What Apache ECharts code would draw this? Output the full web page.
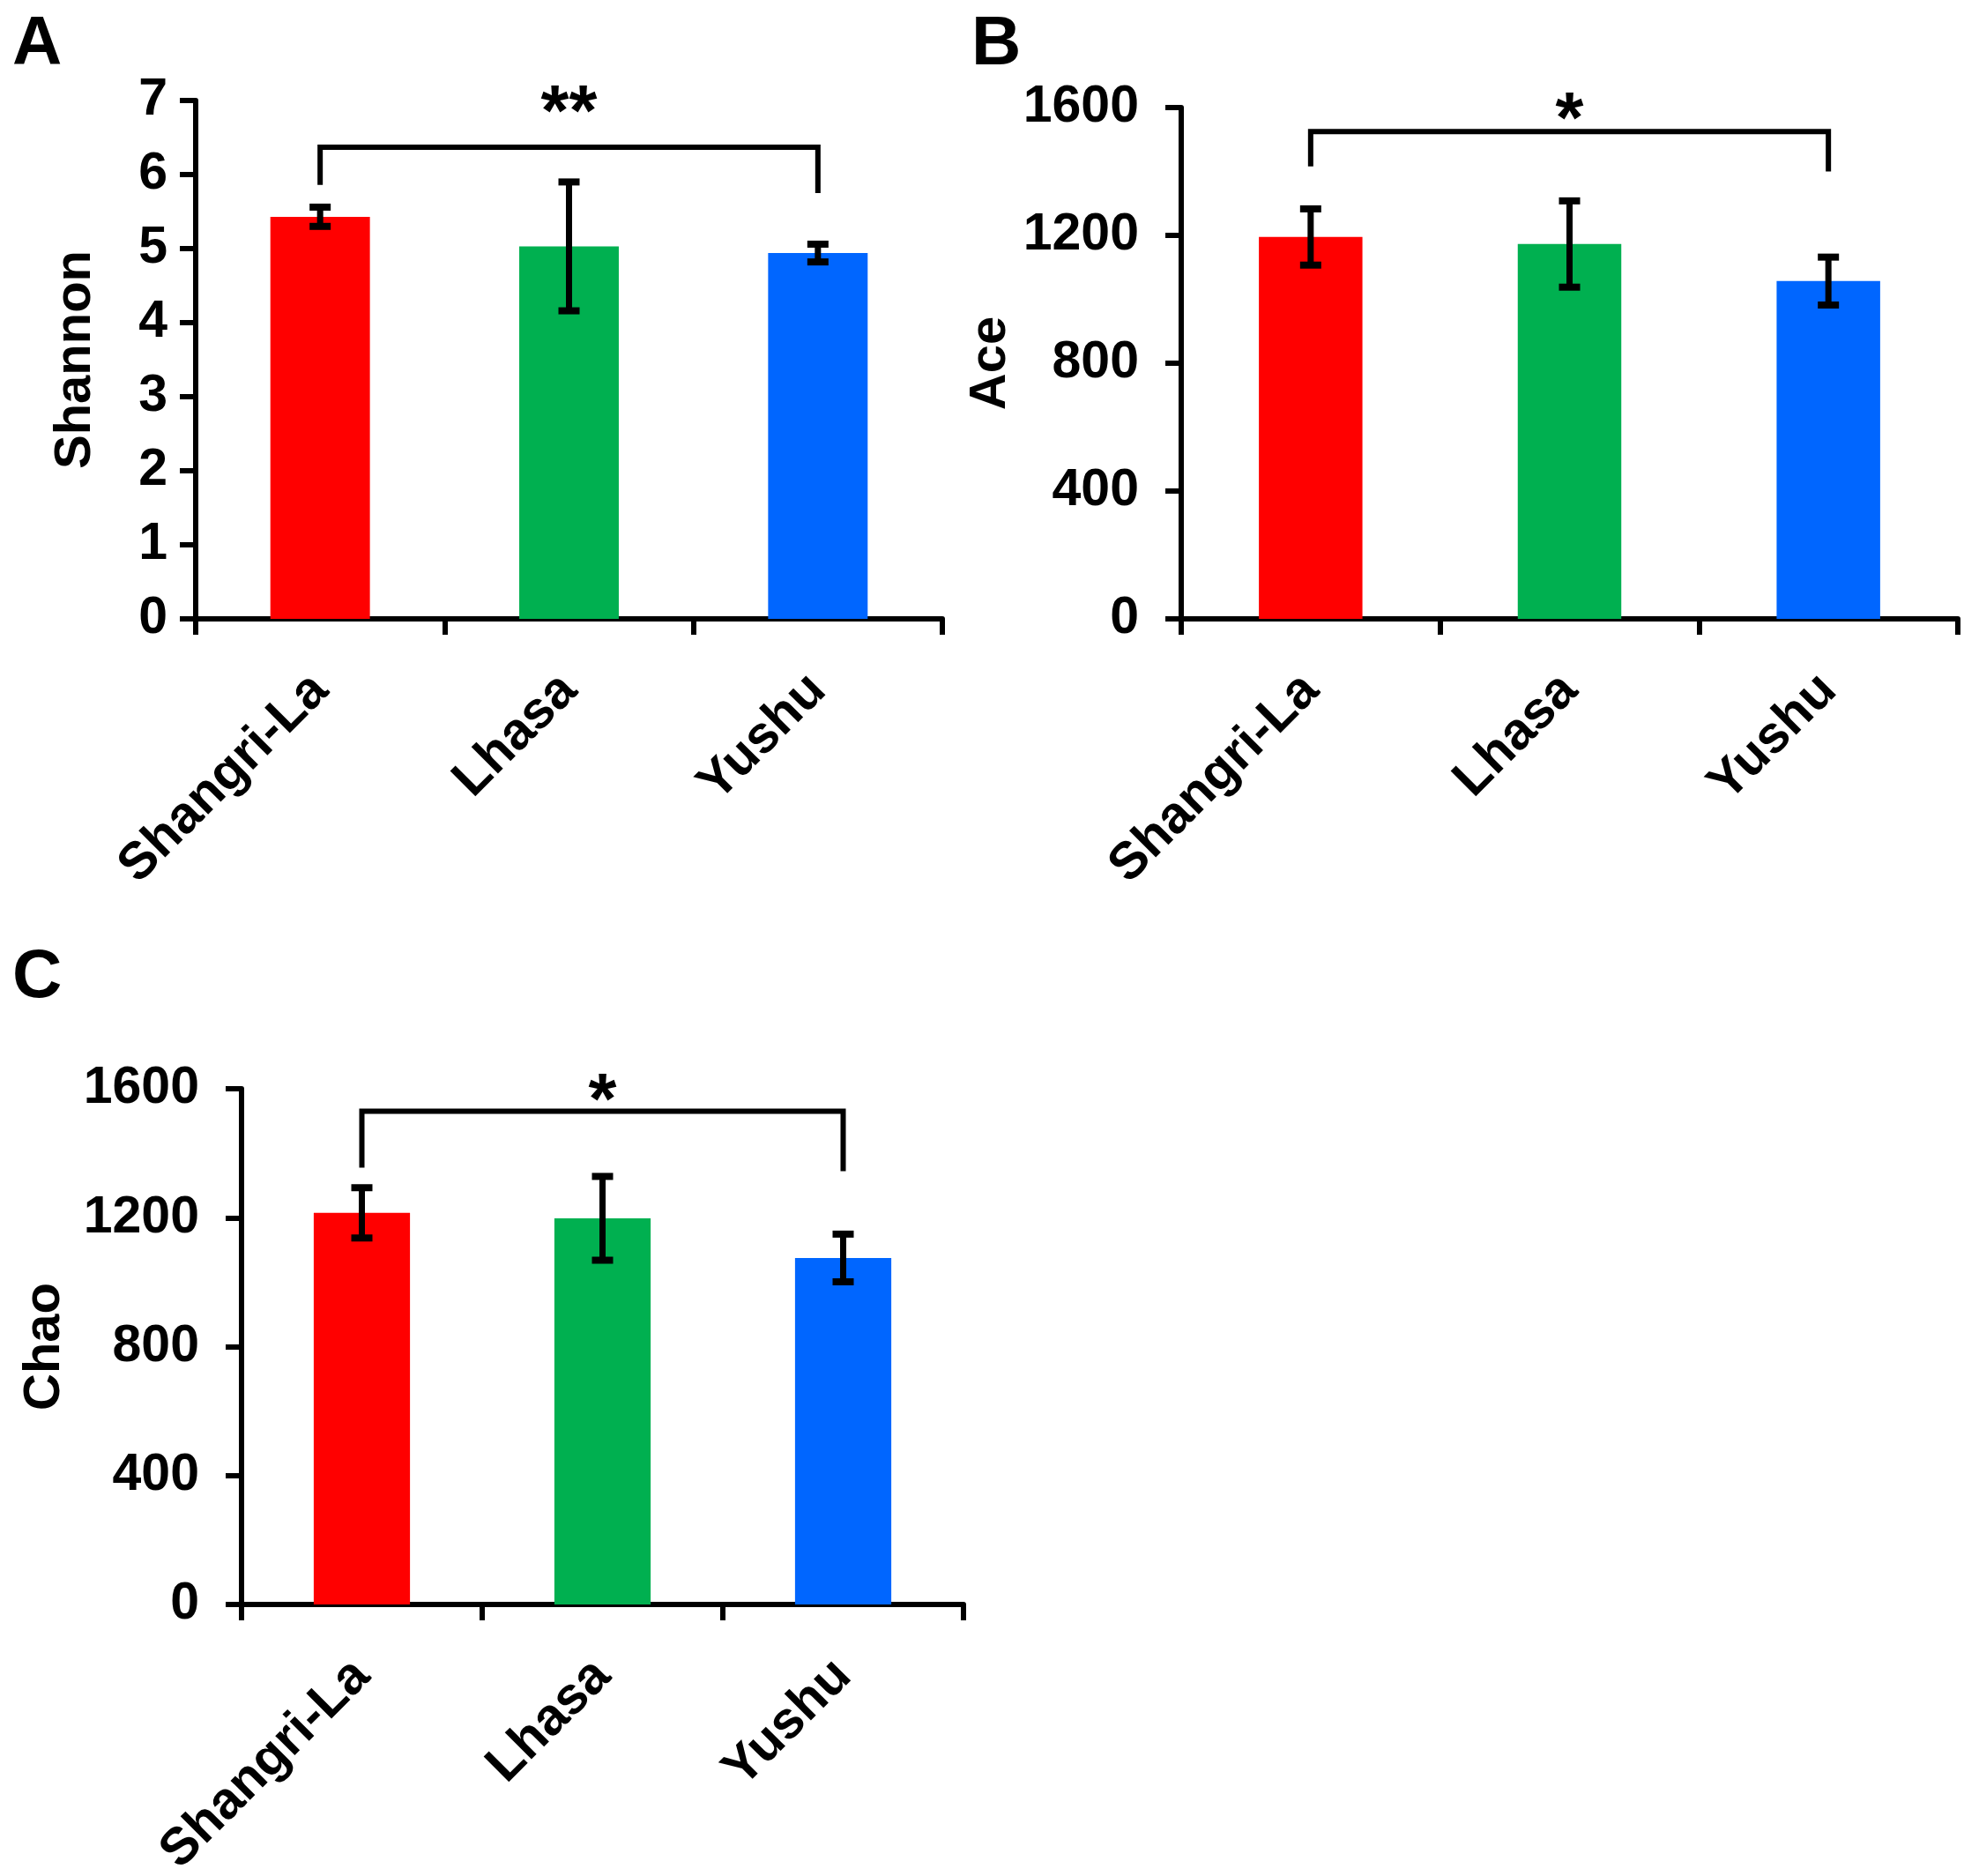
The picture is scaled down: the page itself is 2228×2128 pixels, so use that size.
<!DOCTYPE html>
<html>
<head>
<meta charset="utf-8">
<title>Alpha diversity</title>
<script src="https://cdn.jsdelivr.net/npm/echarts@6.0.0/dist/echarts.min.js"></script>
<style>
  html, body { margin: 0; padding: 0; background: #fff; }
  #main { width: 2228px; height: 2128px; }
</style>
</head>
<body>
<div id="main"></div>
<script>
// categories and values
var categories = ['Shangri-La', 'Lhasa', 'Yushu'];
var barColors = ['#FF0000', '#00B050', '#0066FF'];

var shannonMean = [5.43, 5.03, 4.94];
var shannonErr = [0.13, 0.87, 0.12];
var aceMean = [1195, 1173, 1057];
var aceErr = [88, 135, 75];
var chaoMean = [1215, 1198, 1075];
var chaoErr = [78, 130, 74];

// significance brackets: [from, to, top, leftEnd, rightEnd, starY]
var shannonBracket = [0, 2, 6.37, 5.86, 5.75, 7.0];
var aceBracket = [0, 2, 1525, 1416, 1400, 1600];
var chaoBracket = [0, 2, 1530, 1355, 1344, 1600];
var stars = ['**', '*', '*'];

var yTicks = {
	shannon: { max: 7, interval: 1 },
	ace: { max: 1600, interval: 400 },
	chao: { max: 1600, interval: 400 }
};

var FONT = '"Liberation Sans", Arial, sans-serif';

var myChart = echarts.init(document.getElementById('main'));

function errorBars(params, api) {
	var x = api.value(0);
	var hi = api.coord([x, api.value(2)]);
	var lo = api.coord([x, api.value(1)]);
	var half = 12;
	return {
		type: 'group',
		children: [{
			type: 'line',
			shape: { x1: hi[0], y1: hi[1], x2: lo[0], y2: lo[1] },
			style: { stroke: '#000', lineWidth: 7 }
		}, {
			type: 'line',
			shape: { x1: hi[0] - half, y1: hi[1], x2: hi[0] + half, y2: hi[1] },
			style: { stroke: '#000', lineWidth: 8 }
		}, {
			type: 'line',
			shape: { x1: lo[0] - half, y1: lo[1], x2: lo[0] + half, y2: lo[1] },
			style: { stroke: '#000', lineWidth: 8 }
		}]
	};
}

function bracket(label) {
	return function (params, api) {
		var a = api.value(0), b = api.value(1);
		var p1 = api.coord([a, api.value(3)]);
		var p2 = api.coord([a, api.value(2)]);
		var p3 = api.coord([b, api.value(2)]);
		var p4 = api.coord([b, api.value(4)]);
		var s = api.coord([(a + b) / 2, api.value(5)]);
		return {
			type: 'group',
			children: [{
				type: 'polyline',
				shape: { points: [p1, p2, p3, p4] },
				style: { stroke: '#000', lineWidth: 6, fill: null }
			}, {
				type: 'text',
				x: s[0],
				y: s[1] + 16,
				style: {
					text: label,
					fontSize: 82,
					fontWeight: 'bold',
					fontFamily: FONT,
					fill: '#000',
					align: 'center',
					verticalAlign: 'middle'
				}
			}]
		};
	};
}

function barData(vals) {
	return vals.map(function (v, i) {
		return { value: v, itemStyle: { color: barColors[i] } };
	});
}

function errData(mean, err) {
	return mean.map(function (m, i) { return [i, m - err[i], m + err[i]]; });
}

var axisLine = { show: true, lineStyle: { color: '#000', width: 6 } };
var axisTick = { show: true, inside: false, length: 18, lineStyle: { color: '#000', width: 6 } };

function xAxisFor(gridIndex) {
	return {
		type: 'category',
		gridIndex: gridIndex,
		data: categories,
		boundaryGap: true,
		axisLine: axisLine,
		axisTick: Object.assign({ alignWithLabel: false }, axisTick),
		axisLabel: {
			rotate: 45,
			margin: 72,
			interval: 0,
			color: '#000',
			fontSize: 59,
			fontWeight: 'bold',
			fontFamily: FONT
		},
		splitLine: { show: false }
	};
}

function yAxisFor(gridIndex, name, ticks, gap, labelMargin) {
	return {
		type: 'value',
		gridIndex: gridIndex,
		min: 0,
		max: ticks.max,
		interval: ticks.interval,
		name: name,
		nameLocation: 'middle',
		nameRotate: 90,
		nameGap: gap,
		nameTextStyle: { color: '#000', fontSize: 58, fontWeight: 'bold', fontFamily: FONT },
		axisLine: axisLine,
		axisTick: axisTick,
		axisLabel: {
			margin: labelMargin,
			color: '#000',
			fontSize: 59,
			fontWeight: 'bold',
			fontFamily: FONT,
			formatter: function (v) { return String(v); }
		},
		splitLine: { show: false }
	};
}

var option = {
	backgroundColor: '#fff',
	animation: false,
	grid: [
		{ left: 222, top: 114, width: 847, height: 588, outerBoundsMode: 'none' },
		{ left: 1340, top: 122, width: 881, height: 580, outerBoundsMode: 'none' },
		{ left: 274, top: 1235, width: 819, height: 585, outerBoundsMode: 'none' }
	],
	xAxis: [xAxisFor(0), xAxisFor(1), xAxisFor(2)],
	yAxis: [
		yAxisFor(0, 'Shannon', yTicks.shannon, 107, 32),
		yAxisFor(1, 'Ace', yTicks.ace, 187, 48),
		yAxisFor(2, 'Chao', yTicks.chao, 194, 48)
	],
	graphic: [
		{ type: 'text', left: 14, top: 12, style: { text: 'A', fontSize: 78, fontWeight: 'bold', fontFamily: FONT, fill: '#000' } },
		{ type: 'text', left: 1102, top: 12, style: { text: 'B', fontSize: 78, fontWeight: 'bold', fontFamily: FONT, fill: '#000' } },
		{ type: 'text', left: 14, top: 1070, style: { text: 'C', fontSize: 78, fontWeight: 'bold', fontFamily: FONT, fill: '#000' } }
	],
	series: [{
			type: 'bar', xAxisIndex: 0, yAxisIndex: 0, barWidth: '40%',
			data: barData(shannonMean)
		},
		{
			type: 'custom', xAxisIndex: 0, yAxisIndex: 0, z: 5,
			renderItem: errorBars, encode: { x: 0, y: [1, 2] },
			data: errData(shannonMean, shannonErr)
		},
		{
			type: 'custom', xAxisIndex: 0, yAxisIndex: 0, z: 5,
			renderItem: bracket(stars[0]), encode: { x: [0, 1], y: [2, 3, 4, 5] },
			data: [shannonBracket]
		},
		{
			type: 'bar', xAxisIndex: 1, yAxisIndex: 1, barWidth: '40%',
			data: barData(aceMean)
		},
		{
			type: 'custom', xAxisIndex: 1, yAxisIndex: 1, z: 5,
			renderItem: errorBars, encode: { x: 0, y: [1, 2] },
			data: errData(aceMean, aceErr)
		},
		{
			type: 'custom', xAxisIndex: 1, yAxisIndex: 1, z: 5,
			renderItem: bracket(stars[1]), encode: { x: [0, 1], y: [2, 3, 4, 5] },
			data: [aceBracket]
		},
		{
			type: 'bar', xAxisIndex: 2, yAxisIndex: 2, barWidth: '40%',
			data: barData(chaoMean)
		},
		{
			type: 'custom', xAxisIndex: 2, yAxisIndex: 2, z: 5,
			renderItem: errorBars, encode: { x: 0, y: [1, 2] },
			data: errData(chaoMean, chaoErr)
		},
		{
			type: 'custom', xAxisIndex: 2, yAxisIndex: 2, z: 5,
			renderItem: bracket(stars[2]), encode: { x: [0, 1], y: [2, 3, 4, 5] },
			data: [chaoBracket]
		}
	]
};

myChart.setOption(option);
window.addEventListener('resize', myChart.resize);
</script>
</body>
</html>
